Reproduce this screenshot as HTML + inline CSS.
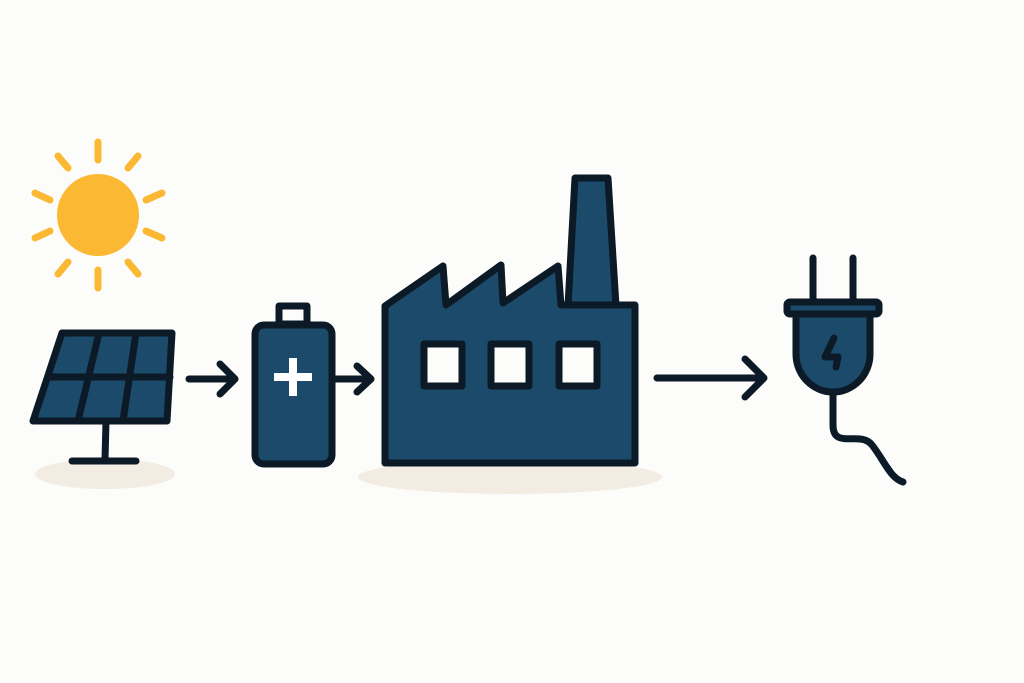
<!DOCTYPE html>
<html><head><style>html,body{margin:0;padding:0;background:#fcfcfa;}svg{display:block}</style></head>
<body>
<svg width="1024" height="683" viewBox="0 0 1024 683" xmlns="http://www.w3.org/2000/svg">
<rect width="1024" height="683" fill="#fcfcfa"/>
<ellipse cx="105" cy="474" rx="70" ry="15" fill="#f3ece2"/>
<ellipse cx="510" cy="477" rx="152" ry="17" fill="#f3ece2"/>
<!-- sun -->
<g stroke="#fbb832" stroke-width="7" stroke-linecap="round">
<circle cx="98" cy="215" r="41" fill="#fbb832" stroke="none"/>
<line x1="98" y1="142" x2="98" y2="160"/><line x1="98" y1="270" x2="98" y2="288"/>
<line x1="35" y1="193" x2="50" y2="200"/><line x1="146" y1="200" x2="162" y2="193"/>
<line x1="35" y1="238" x2="50" y2="231"/><line x1="146" y1="231" x2="162" y2="238"/>
<line x1="58" y1="156" x2="68" y2="168"/><line x1="128" y1="168" x2="138" y2="156"/>
<line x1="58" y1="274" x2="68" y2="262"/><line x1="128" y1="262" x2="138" y2="274"/>
</g>
<g stroke="#0b1a26" stroke-width="7" stroke-linecap="round" stroke-linejoin="round" fill="none">
<!-- solar -->
<polygon points="62,333 172,333 167,421 33,421" fill="#1b4a6b"/>
<line x1="48" y1="377" x2="170" y2="377"/>
<line x1="99" y1="333" x2="78" y2="421"/>
<line x1="136" y1="333" x2="123" y2="421"/>
<line x1="106" y1="421" x2="105" y2="460"/>
<line x1="72" y1="461" x2="136" y2="461"/>
<!-- arrows -->
<path d="M189 379 H234 M220 364 L235 379 L220 394"/>
<path d="M336 379 H370 M357 366 L371 379 L357 392"/>
<path d="M657 378 H764 M745 359 L764 378 L745 397"/>
<!-- battery -->
<rect x="279" y="306" width="28" height="18" fill="#fcfcfa"/>
<rect x="255" y="325" width="77" height="139" rx="9" fill="#1b4a6b"/>
<!-- factory -->
<polygon points="575,178 608,178 616,306 568,306" fill="#1b4a6b"/>
<polygon points="385,306 443,266 446,305 501,265 503,303 558,266 561,305 635,305 635,463 385,463" fill="#1b4a6b"/>
<rect x="424" y="344" width="38" height="42" fill="#fcfcfa"/>
<rect x="491" y="344" width="38" height="42" fill="#fcfcfa"/>
<rect x="559" y="344" width="38" height="42" fill="#fcfcfa"/>
<!-- plug -->
<line x1="813" y1="258" x2="813" y2="302"/><line x1="853" y1="258" x2="853" y2="302"/>
<path d="M796 313 V354 A37 38 0 0 0 870 354 V313 Z" fill="#1b4a6b"/>
<rect x="787" y="302" width="92" height="12" rx="3" fill="#1b4a6b"/>
<path d="M834 338 L825 357 H838 L836 367"/>
<path d="M833 393 V425 C833 450 860 430 872 445 C884 460 890 478 903 482"/>
</g>
<g fill="#fff"><rect x="274" y="373" width="38" height="8"/><rect x="289" y="358" width="8" height="38"/></g>
</svg>
</body></html>
